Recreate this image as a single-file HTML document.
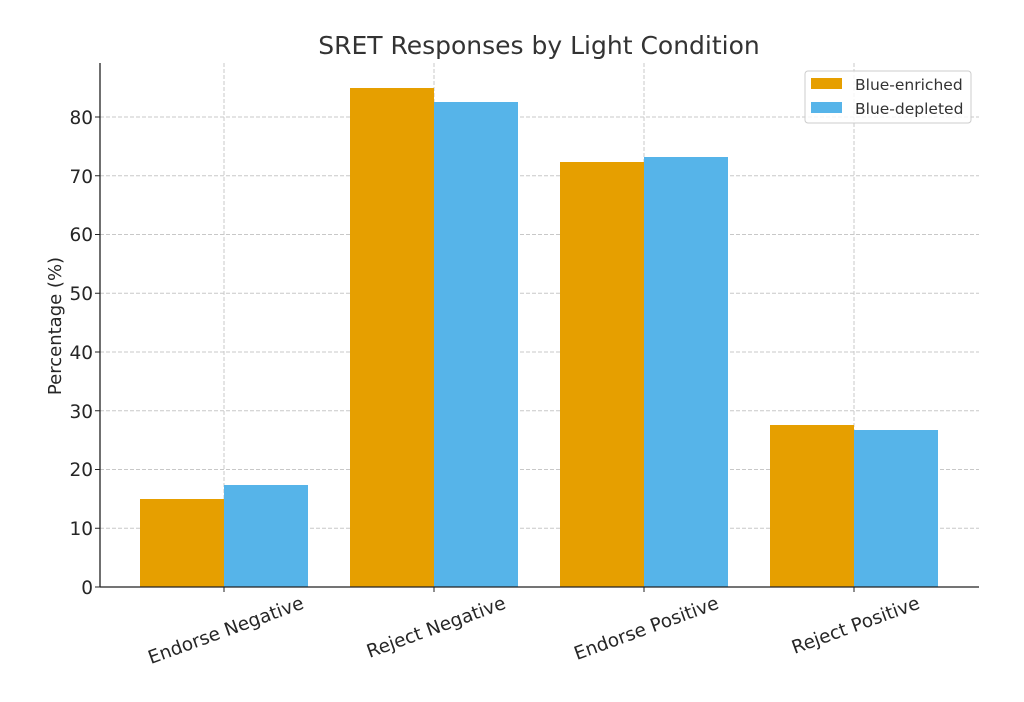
<!DOCTYPE html>
<html><head><meta charset="utf-8"><style>
html,body{margin:0;padding:0;background:#fff;}
svg{display:block;}
text{font-family:"DejaVu Sans","Liberation Sans",sans-serif;fill:#262626;}
</style></head><body>
<svg width="1024" height="702" viewBox="0 0 1024 702" xmlns="http://www.w3.org/2000/svg">
<rect width="1024" height="702" fill="#fff"/>
<g stroke="#c8c8c8" stroke-width="1" stroke-dasharray="4,2">
<line x1="100" y1="528.25" x2="979" y2="528.25"/>
<line x1="100" y1="469.5" x2="979" y2="469.5"/>
<line x1="100" y1="410.75" x2="979" y2="410.75"/>
<line x1="100" y1="352" x2="979" y2="352"/>
<line x1="100" y1="293.25" x2="979" y2="293.25"/>
<line x1="100" y1="234.5" x2="979" y2="234.5"/>
<line x1="100" y1="175.75" x2="979" y2="175.75"/>
<line x1="100" y1="117" x2="979" y2="117"/>
<line x1="224" y1="63" x2="224" y2="587"/>
<line x1="434" y1="63" x2="434" y2="587"/>
<line x1="644" y1="63" x2="644" y2="587"/>
<line x1="854" y1="63" x2="854" y2="587"/>
</g>
<g fill="#E69F00">
<rect x="140" y="499" width="84" height="88"/>
<rect x="350" y="88" width="84" height="499"/>
<rect x="560" y="162" width="84" height="425"/>
<rect x="770" y="425" width="84" height="162"/>
</g>
<g fill="#56B4E9">
<rect x="224" y="485" width="84" height="102"/>
<rect x="434" y="102" width="84" height="485"/>
<rect x="644" y="157" width="84" height="430"/>
<rect x="854" y="430" width="84" height="157"/>
</g>
<g stroke="#222" stroke-width="1.3" fill="none">
<line x1="100" y1="63" x2="100" y2="587"/>
<line x1="100" y1="587" x2="979" y2="587"/>
</g>
<g stroke="#222" stroke-width="1">
<line x1="95" y1="587" x2="100" y2="587"/><line x1="95" y1="528.25" x2="100" y2="528.25"/>
<line x1="95" y1="469.5" x2="100" y2="469.5"/><line x1="95" y1="410.75" x2="100" y2="410.75"/>
<line x1="95" y1="352" x2="100" y2="352"/><line x1="95" y1="293.25" x2="100" y2="293.25"/>
<line x1="95" y1="234.5" x2="100" y2="234.5"/><line x1="95" y1="175.75" x2="100" y2="175.75"/>
<line x1="95" y1="117" x2="100" y2="117"/>
<line x1="224" y1="587" x2="224" y2="592"/><line x1="434" y1="587" x2="434" y2="592"/>
<line x1="644" y1="587" x2="644" y2="592"/><line x1="854" y1="587" x2="854" y2="592"/>
</g>
<g font-size="18.5" text-anchor="end">
<text x="93" y="594">0</text><text x="93" y="535">10</text><text x="93" y="476">20</text>
<text x="93" y="418">30</text><text x="93" y="359">40</text><text x="93" y="300">50</text>
<text x="93" y="241">60</text><text x="93" y="183">70</text><text x="93" y="124">80</text>
</g>
<g font-size="18.5" text-anchor="end">
<text transform="translate(305,608) rotate(-20)">Endorse Negative</text>
<text transform="translate(507,608) rotate(-20)">Reject Negative</text>
<text transform="translate(720,608) rotate(-20)">Endorse Positive</text>
<text transform="translate(921,608) rotate(-20)">Reject Positive</text>
</g>
<text transform="translate(61,326) rotate(-90)" font-size="18" text-anchor="middle">Percentage (%)</text>
<text x="539" y="54" font-size="25" text-anchor="middle" style="fill:#333">SRET Responses by Light Condition</text>
<rect x="805" y="71" width="166" height="52" rx="3" fill="#fff" fill-opacity="0.8" stroke="#ccc"/>
<rect x="811" y="78" width="31" height="11" fill="#E69F00"/>
<rect x="811" y="102" width="31" height="11" fill="#56B4E9"/>
<text x="855" y="90" font-size="15.5" style="fill:#333">Blue-enriched</text>
<text x="855" y="114" font-size="15.5" style="fill:#333">Blue-depleted</text>
</svg>
</body></html>
